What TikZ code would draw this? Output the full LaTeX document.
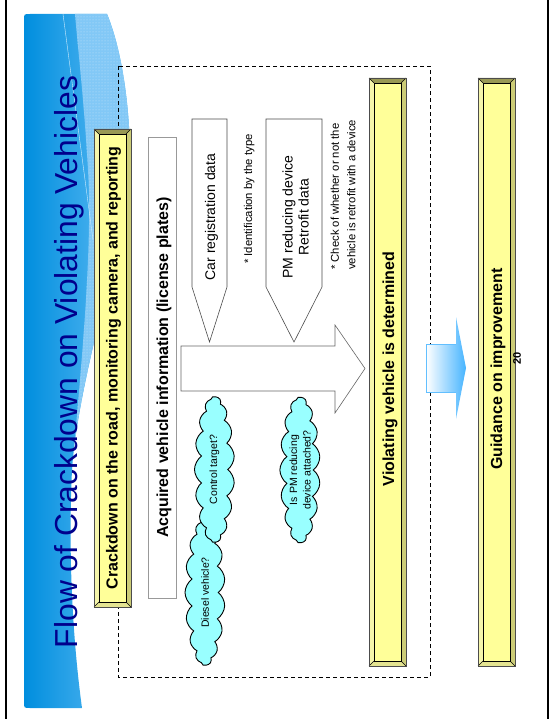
\documentclass[tikz,border=0pt]{standalone}
\usepackage{fontspec}
\setmainfont{Liberation Sans}
\usetikzlibrary{shapes.symbols,patterns}

\definecolor{navy}{RGB}{0,0,140}
\definecolor{banblue}{RGB}{0,142,222}
\definecolor{banmid}{RGB}{100,190,245}
\definecolor{banlight}{RGB}{130,200,246}
\definecolor{barface}{RGB}{255,255,153}
\definecolor{bevtop}{RGB}{153,153,85}
\definecolor{bevright}{RGB}{204,204,119}
\definecolor{bevleft}{RGB}{245,245,170}
\definecolor{bevbottom}{RGB}{228,228,145}
\definecolor{cloudcyan}{RGB}{153,255,255}
\definecolor{arrowblue}{RGB}{70,180,255}

% yellow bar with bevelled rim: x1,y1,x2,y2
\newcommand{\bevelbar}[4]{%
  \fill[bevleft] (#1,#2) rectangle (#3,#4);
  \fill[bevtop] (#1,#2) -- (#3,#2) -- ({#3-5},{#2+5}) -- ({#1+5},{#2+5}) -- cycle;
  \fill[bevright] (#3,#2) -- (#3,#4) -- ({#3-5},{#4-5}) -- ({#3-5},{#2+5}) -- cycle;
  \fill[bevbottom] (#1,#4) -- (#3,#4) -- ({#3-5},{#4-5}) -- ({#1+5},{#4-5}) -- cycle;
  \draw[line width=0.6pt,fill=barface] ({#1+5},{#2+5}) rectangle ({#3-5},{#4-5});
  \draw[line width=0.5pt] (#1,#2) -- ({#1+5},{#2+5}) (#3,#2) -- ({#3-5},{#2+5})
        (#1,#4) -- ({#1+5},{#4-5}) (#3,#4) -- ({#3-5},{#4-5});
  \draw[line width=0.8pt,black!70] (#1,#2) rectangle (#3,#4);
}

\tikzset{
  bartext/.style={rotate=90, anchor=base, inner sep=0pt,
                  font=\fontsize{16}{19}\selectfont\bfseries},
  datatext/.style={rotate=90, align=center, inner sep=0pt,
                   font=\fontsize{14}{16}\selectfont},
  notetext/.style={rotate=90, align=left, inner sep=0pt,
                   font=\fontsize{11.3}{16.5}\selectfont},
  bubble/.style={cloud, cloud puffs=17, cloud puff arc=110, cloud ignores aspect,
                 draw, line width=0.9pt, fill=cloudcyan, rotate=90,
                 minimum width=146pt, minimum height=40pt, inner sep=0pt,
                 align=center, font=\fontsize{10.5}{13.5}\selectfont}
}

\begin{document}
\begin{tikzpicture}[x=1pt,y=-1pt]
\useasboundingbox (0,0) rectangle (550,719);

% slide frame
\draw[line width=2pt] (6,0) -- (6,719);
\draw[line width=2pt] (548,0) -- (548,719);

% title banner
\shade[left color=banblue, right color=banmid]
  (82,708) -- (30,708) .. controls (24,708) .. (24,702) -- (24,20)
  .. controls (24,14) .. (30,14) -- (107,14)
  .. controls (122,50) and (131,110) .. (130,170)
  .. controls (129,230) and (105,290) .. (90,360)
  .. controls (80,405) and (74,440) .. (72,470)
  .. controls (69,530) and (70,620) .. (82,708) -- cycle;
\path[fill=banlight, postaction={pattern=dots, pattern color=white!55!banlight}]
  (75,14) -- (107,14)
  .. controls (122,50) and (131,110) .. (130,170)
  .. controls (129,230) and (105,290) .. (90,360)
  .. controls (80,405) and (74,440) .. (72,470)
  .. controls (80,380) and (93,250) .. (88,170)
  .. controls (84,100) and (78,50) .. (75,14) -- cycle;
\draw[white!70!banmid, line width=0.4pt] (63,14) -- (93,240);

\node (title) at (77,362) [rotate=90, anchor=base, inner sep=0pt, text=navy,
  font=\fontsize{31.8}{38}\selectfont] {Flow of Crackdown on Violating Vehicles};

% area of the checks
\draw[line width=0.8pt, dash pattern=on 4pt off 3pt] (118,66) rectangle (430,677);

% crackdown bar and plate box
\bevelbar{94}{129}{131}{607}
\node (crackdown) at (117.5,368) [bartext] {Crackdown on the road, monitoring camera, and reporting};

\draw[gray!80, line width=1pt, fill=white] (148,138) rectangle (176,598);
\node (acquired) at (168,367.5) [bartext] {Acquired vehicle information (license plates)};

% big arrow into the decision
\draw[black!60, line width=0.6pt, fill=white]
  (181,346) -- (335,346) -- (335,325) -- (365,368.5) -- (335,413)
  -- (335,391) -- (181,391) -- cycle;

% data sources
\draw[black!70, line width=0.6pt, fill=white]
  (192,119) -- (227,119) -- (227,287) -- (209.5,342) -- (192,287) -- cycle;
\node (cardata) at (215,217) [datatext, anchor=base] {Car registration data};
\node (typenote) at (252,199) [notetext, anchor=base] {* Identification by the type};

\draw[black!70, line width=0.6pt, fill=white]
  (266,119) -- (322,119) -- (322,287) -- (294,342) -- (266,287) -- cycle;
\node (pmdata) at (295.5,217) [datatext] {PM reducing device\\Retrofit data};
\node (checknote) at (330.5,270) [notetext, anchor=north west]
  {* Check of whether or not the\\vehicle is retrofit with a device};

% questions
\node (diesel) at (205,592.5) [bubble] {Diesel vehicle?};
\node (control) at (214.5,469.5) [bubble] {Control target?};
\node (pmcloud) at (300,470) [bubble] {Is PM reducing\\device attached?};

% result and follow-up
\bevelbar{369}{78}{406}{666}
\node (violating) at (394,369) [bartext] {Violating vehicle is determined};

\shade[left color=white, right color=arrowblue]
  (426,344) -- (456,344) -- (456,317) -- (466,368) -- (456,419)
  -- (456,392) -- (426,392) -- cycle;
\draw[arrowblue!85, line width=0.7pt]
  (456,344) -- (426,344) -- (426,392) -- (456,392);

\bevelbar{478}{78}{515}{666}
\node (guidance) at (502,369) [bartext] {Guidance on improvement};
\node (pageno) at (517,358) [rotate=90, inner sep=0pt,
  font=\fontsize{11}{13}\selectfont\bfseries] {20};

\end{tikzpicture}
\end{document}
